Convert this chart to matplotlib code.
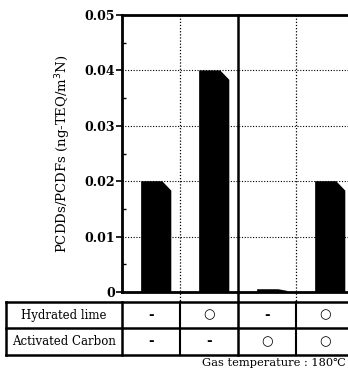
import numpy as np
import matplotlib
matplotlib.use("Agg")
import matplotlib.pyplot as plt
from matplotlib.lines import Line2D
import matplotlib.transforms as mtransforms

plt.rcParams['font.family'] = ['DejaVu Serif', 'DejaVu Sans']

# -----------------------------
# Data
# -----------------------------
values = [0.02, 0.04, 0.0005, 0.02]          # ng-TEQ/m3N
hydrated_lime = ["-", "○", "-", "○"]
activated_carbon = ["-", "-", "○", "○"]
row_labels = ["Hydrated lime", "Activated Carbon"]
yticks = [0, 0.01, 0.02, 0.03, 0.04, 0.05]
ytick_labels = ["0", "0.01", "0.02", "0.03", "0.04", "0.05"]

W, H = 348, 370
fig = plt.figure(figsize=(W / 100, H / 100), dpi=100)

# axes run past the right edge (the scan is cropped there)
col_px = 58.0
ax = fig.add_axes([122 / W, (H - 292) / H, 5 * col_px / W, (292 - 15) / H])
ax.set_xlim(0, 5)
ax.set_ylim(0, 0.05)

# bars with a clipped upper-right corner
bar_l, bar_r = 0.33, 0.85
for i, v in enumerate(values):
    x0, x1 = i + bar_l, i + bar_r
    cut_x = 0.3 * (x1 - x0)
    cut_y = min(0.0017, v * 0.6)
    ax.fill([x0, x0, x1 - cut_x, x1, x1],
            [0, v, v, v - cut_y, 0], color="black", lw=0, zorder=3)

# grid
for y in yticks[1:-1]:
    ax.axhline(y, color="black", lw=0.8, ls=(0, (1, 1.5)), zorder=1)

ax.set_yticks(yticks)
ax.set_yticklabels(ytick_labels, fontsize=9, fontweight="bold")
ax.set_yticks(np.arange(0.005, 0.05, 0.01), minor=True)
ax.tick_params(axis="y", which="major", direction="out", length=4, width=1.2, pad=1)
ax.tick_params(axis="y", which="minor", direction="in", length=3, width=1)
ax.set_xticks([])
for s in ["left", "top", "bottom"]:
    ax.spines[s].set_linewidth(2)
ax.spines["right"].set_visible(False)

ax.set_ylabel("PCDDs/PCDFs (ng-TEQ/m$^3$N)", fontsize=9.5, labelpad=8)

# -----------------------------
# table beneath the axes
# -----------------------------
blend = mtransforms.blended_transform_factory(ax.transData, fig.transFigure)
fy = lambda p: (H - p) / H
fx = lambda p: p / W
t_top, t_mid, t_bot = 302, 328, 355
ax_top = 15

# vertical column separators (dotted inside plot, solid in table)
for c in [1, 2, 3, 4]:
    if c == 2:
        fig.add_artist(Line2D([c, c], [fy(ax_top), fy(t_bot)], transform=blend,
                              color="black", lw=1.8))
    else:
        fig.add_artist(Line2D([c, c], [fy(ax_top), fy(t_top)], transform=blend,
                              color="black", lw=0.9, ls=(0, (1, 1.5))))
        fig.add_artist(Line2D([c, c], [fy(t_top), fy(t_bot)], transform=blend,
                              color="black", lw=1.5))

# horizontal table lines
for p in [t_top, t_mid, t_bot]:
    fig.add_artist(Line2D([fx(6), 1.2], [fy(p), fy(p)], transform=fig.transFigure,
                          color="black", lw=1.8))
for xp in [6, 122]:
    fig.add_artist(Line2D([fx(xp), fx(xp)], [fy(t_top), fy(t_bot)],
                          transform=fig.transFigure, color="black", lw=1.8))

row_y = [(t_top + t_mid) / 2, (t_mid + t_bot) / 2]
for r, lab in enumerate(row_labels):
    fig.text(fx(64), fy(row_y[r]), lab, ha="center", va="center", fontsize=8.5)
for i, (a, b) in enumerate(zip(hydrated_lime, activated_carbon)):
    for r, s in enumerate([a, b]):
        fig.text(i + 0.5, fy(row_y[r]), s, transform=blend, ha="center",
                 va="center", fontsize=9.5, fontweight="bold")

fig.text(fx(346), fy(363), "Gas temperature : 180℃", ha="right", va="center",
         fontsize=8.2)

plt.savefig("out.png", dpi=100)
plt.close()
